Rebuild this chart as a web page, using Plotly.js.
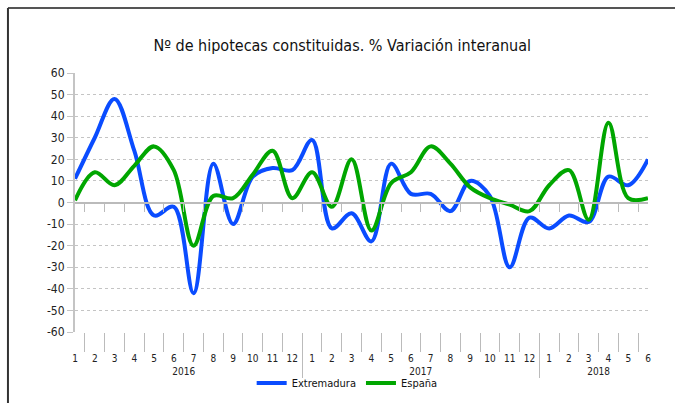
<!DOCTYPE html>
<html>
<head>
<meta charset="utf-8">
<script src="https://cdn.plot.ly/plotly-3.0.1.min.js"></script>
<style>html,body{margin:0;padding:0;background:#fff;}#chart{width:675px;height:403px;}</style>
</head>
<body>
<div id="chart"></div>
<script>
const years = ['2016','2016','2016','2016','2016','2016','2016','2016','2016','2016','2016','2016',
               '2017','2017','2017','2017','2017','2017','2017','2017','2017','2017','2017','2017',
               '2018','2018','2018','2018','2018','2018'];
const months = ['1','2','3','4','5','6','7','8','9','10','11','12',
                '1','2','3','4','5','6','7','8','9','10','11','12',
                '1','2','3','4','5','6'];
const extremadura = [11, 30, 48, 24, -6, -2, -42, 18, -10, 12, 16, 15,
                     29, -12, -5, -18, 18, 4, 4, -4, 10, 3, -30, -7,
                     -12, -6, -9, 12, 8, 20];
const espana = [1, 14, 8, 17, 26, 15, -20, 3, 2, 13, 24, 2,
                14, -2, 20, -13, 9, 14, 26, 18, 7, 2, -1, -4,
                8, 15, -8, 37, 2, 2];
const yTickVals = [60, 50, 40, 30, 20, 10, 0, -10, -20, -30, -40, -50, -60];
const yTickText = ['60', '50', '40', '30', '20', '10', '0', '-10', '-20', '-30', '-40', '-50', '-60'];

const FONT = 'DejaVu Sans Condensed, Liberation Sans Narrow, Arial Narrow, sans-serif';
const xcat = [years, months];

// plot area geometry (pixels)
const M_T = 73, M_B = 4, H = 403;
const PAPER_H = H - M_T - M_B;              // height of paper area
const py = px => (H - M_B - px) / PAPER_H;  // pixel y -> paper y
const PLOT_BOTTOM = 332;                    // pixel row of the -60 line
const LABEL_AXIS = 351;                     // pixel row where category labels start
const D0 = py(PLOT_BOTTOM);
const GAP = LABEL_AXIS - PLOT_BOTTOM;

const traces = [
  {x: xcat, y: extremadura, name: 'Extremadura', type: 'scatter', mode: 'lines',
   line: {color: '#0a4cff', width: 4, shape: 'spline', smoothing: 1}, hoverinfo: 'skip'},
  {x: xcat, y: espana, name: 'España', type: 'scatter', mode: 'lines',
   line: {color: '#00a600', width: 4, shape: 'spline', smoothing: 1}, hoverinfo: 'skip'},
  {x: xcat, y: espana, xaxis: 'x2', type: 'scatter', mode: 'lines', opacity: 0,
   showlegend: false, hoverinfo: 'skip', line: {width: 0}},
  {x: xcat, y: espana, xaxis: 'x3', type: 'scatter', mode: 'lines', opacity: 0,
   showlegend: false, hoverinfo: 'skip', line: {width: 0}}
];

const layout = {
  width: 675, height: H,
  margin: {l: 75, r: 27, t: M_T, b: M_B},
  paper_bgcolor: '#fff', plot_bgcolor: '#fff',
  font: {family: FONT, size: 12, color: '#222'},
  title: {text: 'Nº de hipotecas constituidas. % Variación interanual',
          font: {family: FONT, size: 16, color: '#111'},
          xref: 'container', x: 0.507, xanchor: 'center',
          yref: 'container', y: 0.888, yanchor: 'middle'},
  showlegend: true,
  legend: {orientation: 'h', x: 0.475, xanchor: 'center', y: py(383), yanchor: 'middle',
           font: {family: FONT, size: 11, color: '#111'}, itemwidth: 30,
           bgcolor: 'rgba(0,0,0,0)'},
  xaxis: {type: 'multicategory', anchor: 'free', position: py(LABEL_AXIS), automargin: false,
          showgrid: false, zeroline: false, tickangle: 0,
          showline: false, ticks: '',
          showdividers: true, dividercolor: '#bbb', dividerwidth: 1,
          tickfont: {family: FONT, size: 10, color: '#222'}},
  xaxis2: {type: 'multicategory', overlaying: 'x', anchor: 'free', position: D0 + (1 - D0) / 2,
           automargin: false,
           showgrid: false, zeroline: false, showline: true, linecolor: '#bbb', linewidth: 2,
           ticks: 'outside', ticklen: 8, tickcolor: '#bbb', tickwidth: 1,
           showticklabels: false, showdividers: false},
  xaxis3: {type: 'multicategory', overlaying: 'x', anchor: 'y', automargin: false,
           showgrid: false, zeroline: false, showline: false,
           ticks: 'outside', ticklen: GAP, tickcolor: '#bbb', tickwidth: 1,
           showticklabels: false, showdividers: false},
  yaxis: {domain: [D0, 1], range: [-60, 60], tickmode: 'array', tickvals: yTickVals, ticktext: yTickText,
          automargin: false, showgrid: true, gridcolor: '#c4c4c4',
          griddash: 'dot', gridwidth: 1, zeroline: false, showline: true,
          linecolor: '#c4c4c4', linewidth: 2, ticks: 'outside', ticklen: 6,
          tickcolor: '#c4c4c4', tickfont: {family: FONT, size: 12, color: '#222'}},
  shapes: [
    {type: 'line', xref: 'paper', yref: 'paper', x0: -0.117, x1: 1.1, y0: py(8), y1: py(8),
     line: {color: '#555', width: 2}},
    {type: 'line', xref: 'paper', yref: 'paper', x0: -0.117, x1: -0.117, y0: py(8), y1: py(410),
     line: {color: '#333', width: 2}}
  ]
};

Plotly.newPlot('chart', traces, layout, {displayModeBar: false, staticPlot: true});
</script>
</body>
</html>
